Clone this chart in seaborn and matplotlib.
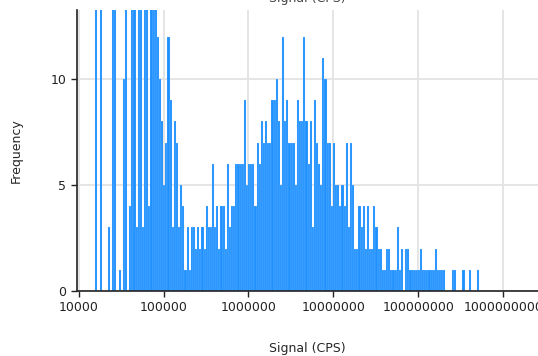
import numpy as np
import matplotlib
matplotlib.use("Agg")
import matplotlib.pyplot as plt
import seaborn as sns
from matplotlib.ticker import FixedLocator, FixedFormatter

# conteos por bin (bins log10 de 0.025 desde 10^4.195)
counts = [16, 0, 15, 0, 0, 0, 3, 0, 14, 17,
          0, 1, 0, 10, 18, 0, 4, 15, 20, 3,
          16, 19, 3, 17, 22, 4, 18, 16, 14, 12,
          10, 8, 5, 7, 12, 9, 3, 8, 7, 3,
          5, 4, 1, 3, 1, 3, 3, 2, 3, 2,
          3, 2, 4, 3, 3, 6, 3, 4, 2, 4,
          4, 2, 6, 3, 4, 4, 6, 6, 6, 6,
          9, 5, 6, 6, 6, 4, 7, 6, 8, 7,
          8, 7, 7, 9, 9, 10, 8, 5, 12, 8,
          9, 7, 7, 7, 5, 9, 8, 8, 12, 8,
          6, 8, 3, 9, 7, 6, 5, 11, 10, 7,
          7, 4, 7, 5, 5, 4, 5, 4, 7, 3,
          7, 5, 2, 2, 4, 3, 4, 2, 4, 2,
          2, 4, 3, 2, 2, 1, 1, 2, 2, 1,
          1, 1, 3, 1, 2, 0, 2, 2, 1, 1,
          1, 1, 1, 2, 1, 1, 1, 1, 1, 1,
          2, 1, 1, 1, 1, 0, 0, 0, 1, 1,
          0, 0, 0, 1, 0, 0, 1, 0, 0, 0,
          1]

xticks = [1e4, 1e5, 1e6, 1e7, 1e8, 1e9]
xtick_labels = ['10000', '100000', '1000000', '10000000', '100000000', '1000000000']
yticks = [0, 5, 10]

# bins
lo, bw = 4.195, 0.025
nb = len(counts)
centers = 10 ** (lo + bw * (np.arange(nb) + 0.5))
signal = np.repeat(centers, counts)

sns.set_style("ticks")
plt.rcParams['font.family'] = ['DejaVu Sans']

fig = plt.figure(figsize=(5.38, 3.56), dpi=100)
ax = fig.add_axes([76.7 / 538, 65 / 356, 1 - 76.7 / 538, 281 / 356])

sns.histplot(x=signal, bins=nb, binrange=(lo, lo + bw * nb), log_scale=True,
             color='#1e90ff', alpha=1, edgecolor='#cfe6ff', linewidth=0.12, ax=ax)

ax.set_xlim(10 ** 3.9764, 10 ** 9.41)
ax.set_ylim(0, 13.25)
ax.xaxis.set_major_locator(FixedLocator(xticks))
ax.xaxis.set_major_formatter(FixedFormatter(xtick_labels))
ax.xaxis.set_minor_locator(FixedLocator([]))
ax.set_yticks(yticks)

ax.grid(True, color='#e3e3e3', lw=1.3)
ax.set_axisbelow(True)
for s in ['top', 'right']:
    ax.spines[s].set_visible(False)
for s in ['left', 'bottom']:
    ax.spines[s].set_color('#222222')
    ax.spines[s].set_linewidth(1.2)
ax.tick_params(length=4, width=1, labelsize=9, colors='#222222')

ax.set_xlabel('Signal (CPS)', fontsize=9, labelpad=20)
ax.set_ylabel('Frequency', fontsize=9, labelpad=20)
ax.set_title('Signal (CPS)', fontsize=9, pad=6, color='#444444')

plt.savefig('out.png', dpi=100)
plt.close()
